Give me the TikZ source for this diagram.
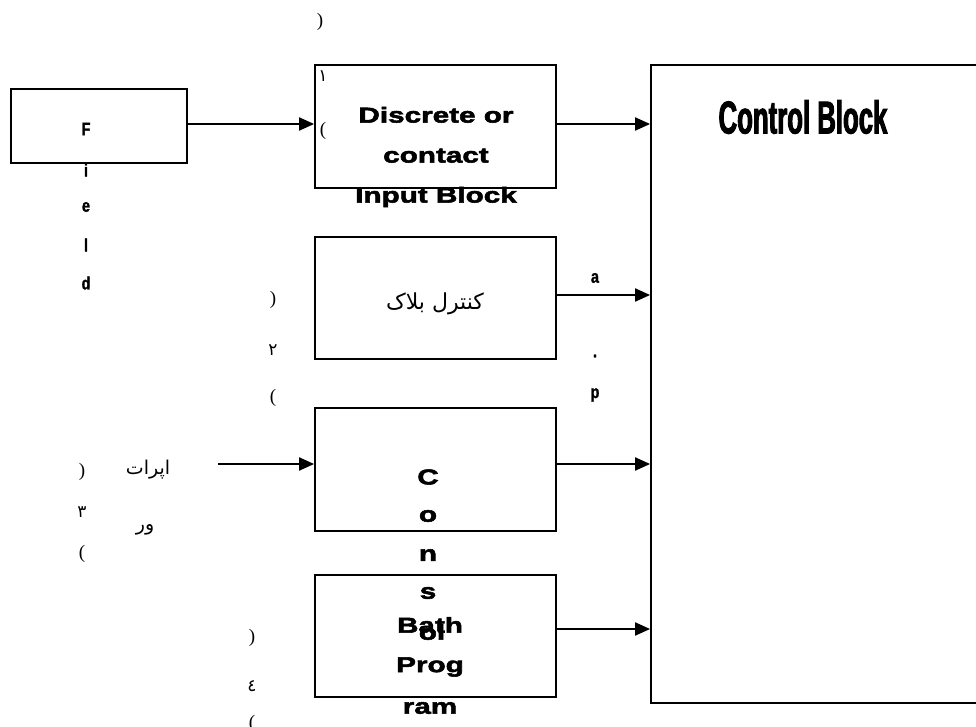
\documentclass[tikz,border=0pt]{standalone}
\usepackage{fontspec}
\setmainfont{Liberation Serif}
\newfontfamily\blk{Liberation Sans Bold}[FakeStretch=1.38,FakeBold=2.5]
\newfontfamily\nar{Liberation Sans Bold}[FakeStretch=0.8,FakeBold=1.5]
\newfontfamily\narr{Liberation Sans Bold}[FakeStretch=0.56,FakeBold=2]
\newfontfamily\arabicfont[Script=Arabic]{DejaVu Sans}
\TeXXeTstate=1
\usetikzlibrary{arrows.meta}
\begin{document}
\begin{tikzpicture}[x=1pt,y=-1pt,
  box/.style={draw, line width=1.8pt, rectangle, inner sep=0pt},
  arr/.style={line width=2pt, -{Triangle[length=15pt,width=13pt]}},
  heavy/.style={font=\blk\fontsize{21.5}{40}\selectfont, align=center, inner sep=0pt},
  narrowtxt/.style={font=\nar\fontsize{18}{20}\selectfont, inner sep=0pt},
  paren/.style={font=\fontsize{19}{19}\selectfont, inner sep=0pt},
  digit/.style={font=\arabicfont\fontsize{17}{17}\selectfont, inner sep=0pt},
  fa/.style={font=\arabicfont\fontsize{19}{19}\selectfont, inner sep=0pt}]
\clip (0,0) rectangle (976,727);
\fill[white] (0,0) rectangle (976,727);

% boxes
\node[box, minimum width=176pt, minimum height=74pt] (field) at (99,126) {};
\node[box, minimum width=241pt, minimum height=123pt] (disc) at (435.5,126.5) {};
\node[box, minimum width=241pt, minimum height=122pt] (ctrlfa) at (435.5,298) {};
\node[box, minimum width=241pt, minimum height=123pt] (cons) at (435.5,469.5) {};
\node[box, minimum width=241pt, minimum height=122pt] (batch) at (435.5,636) {};
\node[box, minimum width=449pt, minimum height=638pt] (ctrl) at (875.5,384) {};

% connectors
\coordinate (opin) at (218,464);
\draw[arr] ([yshift=2pt]field.east) -- ([yshift=2pt]field.east -| disc.west);
\draw[arr] ([yshift=2.5pt]disc.east) -- ([yshift=2.5pt]disc.east -| ctrl.west);
\draw[arr] ([yshift=3pt]ctrlfa.east) -- ([yshift=3pt]ctrlfa.east -| ctrl.west);
\draw[arr] (opin) -- (opin -| cons.west);
\draw[arr] ([yshift=5.5pt]cons.east) -- ([yshift=5.5pt]cons.east -| ctrl.west);
\draw[arr] ([yshift=7pt]batch.east) -- ([yshift=7pt]batch.east -| ctrl.west);

% texts
\node[heavy] (disct) at (436,157) {Discrete or\\contact\\Input Block};
\node[font=\narr\fontsize{46}{46}\selectfont, inner sep=0pt] (ctrlt) at (803,117) {Control Block};
\node[font=\arabicfont\fontsize{22}{22}\selectfont, inner sep=0pt] (ctrlfat) at (435,304) {\beginR کنترل بلاک\endR};

\node[narrowtxt] (fF) at (86,129) {F};
\node[narrowtxt] (fi) at (86,170) {i};
\node[narrowtxt] (fe) at (86,207) {e};
\node[narrowtxt] (fl) at (86,245) {l};
\node[narrowtxt] (fd) at (86,283) {d};

\node[narrowtxt] (la) at (595,278) {a};
\node[narrowtxt] (ldot) at (595,356) {.};
\node[narrowtxt] (lp) at (595,395) {p};

\node[heavy] (c1) at (428,477) {C};
\node[heavy] (c2) at (428,516) {o};
\node[heavy] (c3) at (428,555) {n};
\node[heavy] (c4) at (428,593) {s};
\node[heavy] (c5) at (432,632) {ol};
\node[heavy] (b1) at (430,625) {Bath};
\node[heavy] (b2) at (430,667) {Prog};
\node[heavy] (b3) at (430,708) {ram};

\node[fa] (opt1) at (148,470) {\beginR اپرات\endR};
\node[fa] (opt2) at (145,530) {\beginR ور\endR};

% small numbering marks
\node[paren] (p0) at (320,22) {)};
\node[digit] (n1) at (323,76) {١};
\node[paren] (p1b) at (323,131) {(};
\node[paren] (p2a) at (273,300) {)};
\node[digit] (n2) at (273,350) {٢};
\node[paren] (p2b) at (273,398) {(};
\node[paren] (p3a) at (82,472) {)};
\node[digit] (n3) at (82,512) {٣};
\node[paren] (p3b) at (82,554) {(};
\node[paren] (p4a) at (252,638) {)};
\node[digit] (n4) at (252,686) {٤};
\node[paren] (p4b) at (252,724) {(};
\end{tikzpicture}
\end{document}
